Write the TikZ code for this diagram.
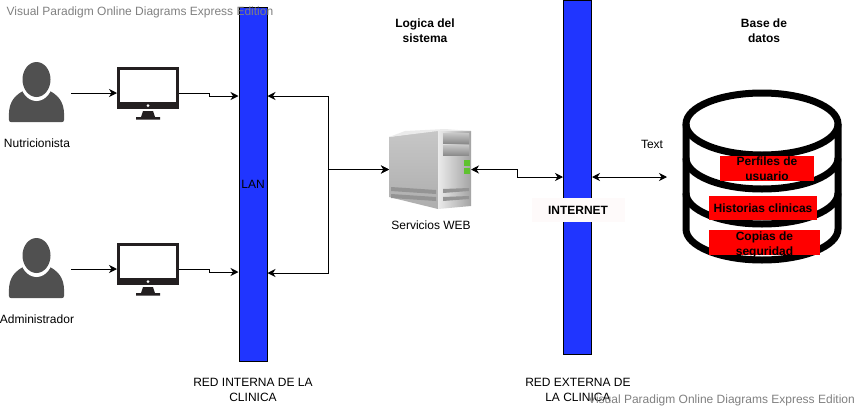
\documentclass[tikz,border=0pt]{standalone}
\usepackage{fontspec}
\setmainfont{Liberation Sans}
\usetikzlibrary{arrows.meta,calc}
\definecolor{barblue}{HTML}{2035FF}
\definecolor{persongray}{HTML}{505050}
\definecolor{monblack}{HTML}{231F20}
\definecolor{inetwhite}{HTML}{FEFAFA}
\definecolor{ledgreen}{HTML}{5FC22F}
\tikzset{
  x=1pt,y=-1pt,
  txt/.style={inner sep=0pt,align=center,font=\fontsize{12}{15}\selectfont},
  boldtxt/.style={txt,font=\fontsize{12}{15}\selectfont\bfseries},
  bar/.style={draw=black,fill=barblue,line width=1pt,minimum width=28pt,inner sep=0pt,font=\fontsize{12}{15}\selectfont},
  holder/.style={inner sep=0pt,outer sep=0pt},
  red box/.style={fill=red,inner sep=0pt,outer sep=0pt,align=center,font=\fontsize{12}{15}\selectfont\bfseries},
  link/.style={draw=black,line width=1pt},
  one/.style={link,-{Stealth[length=8pt,width=8pt,inset=2.5pt]}},
  both/.style={link,{Stealth[length=8pt,width=8pt,inset=2.5pt]}-{Stealth[length=8pt,width=8pt,inset=2.5pt]}},
  mark text/.style={inner sep=0pt,text=black!50,font=\fontsize{12}{14}\selectfont},
}
\newcommand{\personshape}{%
  \fill[persongray] (0,57) .. controls (-1,42) and (3,34) .. (14,28) -- (41,28) .. controls (52,34) and (56,42) .. (55,57) .. controls (55,58.5) and (54,59) .. (53,59) -- (2,59) .. controls (1,59) and (0,58.5) .. (0,57) -- cycle;
  \fill[white] (27.5,17.5) ellipse (16.5 and 20.5);
  \fill[persongray] (27.5,16.5) ellipse (14 and 17.5);
}
\newcommand{\monitorshape}{%
  \fill[monblack] (0,0) rectangle (62,42);
  \fill[white] (3,3) rectangle (59,35);
  \fill[white] (31,38.7) circle (1.5);
  \fill[monblack] (26,44) -- (36,44) -- (38,50) -- (43,50) -- (43,52.5) -- (19,52.5) -- (19,50) -- (24,50) -- cycle;
}
\begin{document}
\begin{tikzpicture}
\useasboundingbox (0,0) rectangle (860,410);

% network bars
\node[bar,minimum height=354pt] (lan) at (253,184) {LAN};
\node[bar,minimum height=354pt] (ext) at (577.5,177) {};
\node[holder,fill=inetwhite,minimum width=93pt,minimum height=24pt,font=\fontsize{12}{15}\selectfont\bfseries] (inet) at (578,210) {INTERNET};

% people
\node[holder,minimum width=69pt,minimum height=60pt] (p1) at (36.5,93) {};
\begin{scope}[shift={(9,63)}]\personshape\end{scope}
\node[holder,minimum width=69pt,minimum height=60pt] (p2) at (36.5,269) {};
\begin{scope}[shift={(9,239)}]\personshape\end{scope}
\node[txt] (l1) at (37,143) {Nutricionista};
\node[txt] (l2) at (37,319) {Administrador};

% monitors
\node[holder,minimum width=62pt,minimum height=52pt] (m1) at (148,93) {};
\begin{scope}[shift={(117,67)}]\monitorshape\end{scope}
\node[holder,minimum width=62pt,minimum height=52pt] (m2) at (148,269) {};
\begin{scope}[shift={(117,243)}]\monitorshape\end{scope}

% server
\node[holder,minimum width=82pt,minimum height=79pt] (srv) at (430,169.5) {};
\shade[top color=black!22,bottom color=black!32] (389,137) -- (438,130) -- (438,209) -- (389,197) -- cycle;
\shade[left color=black!8,right color=black!36] (438,130) -- (471,131) -- (471,206) -- (438,209) -- cycle;
\fill[black!8] (389,137) -- (405,131) -- (445,129) -- (471,131) -- (438,131) -- cycle;
\fill[black!42] (391,187) -- (436,190) -- (436,194) -- (391,191) -- cycle;
\fill[black!42] (391,194) -- (436,197) -- (436,201) -- (391,198) -- cycle;
\fill[black!42] (443,189) -- (469,188) -- (469,191) -- (443,193) -- cycle;
\fill[black!42] (443,197) -- (469,196) -- (469,199) -- (443,201) -- cycle;
\shade[top color=black!22,bottom color=black!45] (443,133) rectangle (469,143);
\shade[top color=black!22,bottom color=black!45] (443,145) rectangle (469,155);
\fill[ledgreen] (464,160) rectangle (470,165.5);
\fill[ledgreen] (464,168) rectangle (470,173.5);
\node[txt] (srvl) at (431,225) {Servicios WEB};

% database
\node[holder,minimum width=190pt,minimum height=174pt] (db) at (762,177) {};
\begin{scope}[line width=7pt,draw=black]
  \draw (762,124) ellipse (76 and 31);
  \draw (686,124) -- (686,229) arc[start angle=180,end angle=0,x radius=76,y radius=31] -- (838,124);
  \draw (686,158) arc[start angle=180,end angle=0,x radius=76,y radius=31];
  \draw (686,193) arc[start angle=180,end angle=0,x radius=76,y radius=31];
\end{scope}
\node[red box,minimum width=94pt,minimum height=25pt] (r1) at (767,168.5) {Perfiles de\\usuario};
\node[red box,minimum width=108pt,minimum height=24pt] (r2) at (763,208) {Historias clinicas};
\node[red box,minimum width=111pt,minimum height=25pt] (r3) at (764.5,242.5) {};
\node[boldtxt] (r3t) at (764.5,244.5) {Copias de\\seguridad};

% headings
\node[boldtxt] (h1) at (425,31) {Logica del\\sistema};
\node[boldtxt] (h2) at (764,31) {Base de\\datos};
\node[txt] (t1) at (652,144) {Text};
\node[txt] (b1) at (253,390) {RED INTERNA DE LA\\CLINICA};
\node[txt] (b2) at (578,390) {RED EXTERNA DE\\LA CLINICA};

% connectors
\coordinate (lanA) at (lan.west |- 0,96);
\coordinate (lanB) at (lan.west |- 0,272);
\coordinate (lanC) at (lan.east |- 0,96);
\coordinate (lanD) at (lan.east |- 0,273);
\coordinate (extA) at (ext.west |- 0,177);
\coordinate (extB) at (ext.east |- 0,177);
\draw[one] (p1.east) -- (m1.west);
\draw[one] (p2.east) -- (m2.west);
\draw[one] (m1.east) -- (209,93) -- (209,96) -- (lanA);
\draw[one] (m2.east) -- (209,269) -- (209,272) -- (lanB);
\draw[both] (lanC) -- (328,96) -- (328,169.5) -- (srv.west);
\draw[both] (lanD) -- (328,273) -- (328,169.5) -- (srv.west);
\draw[both] (srv.east) -- (517,169.5) -- (517,177) -- (extA);
\draw[both] (extB) -- (db.west);

% watermarks
\node[mark text,anchor=west] (w1) at (6.5,12) {Visual Paradigm Online Diagrams Express Edition};
\node[mark text,anchor=east] (w2) at (855,400) {Visual Paradigm Online Diagrams Express Edition};
\end{tikzpicture}
\end{document}
